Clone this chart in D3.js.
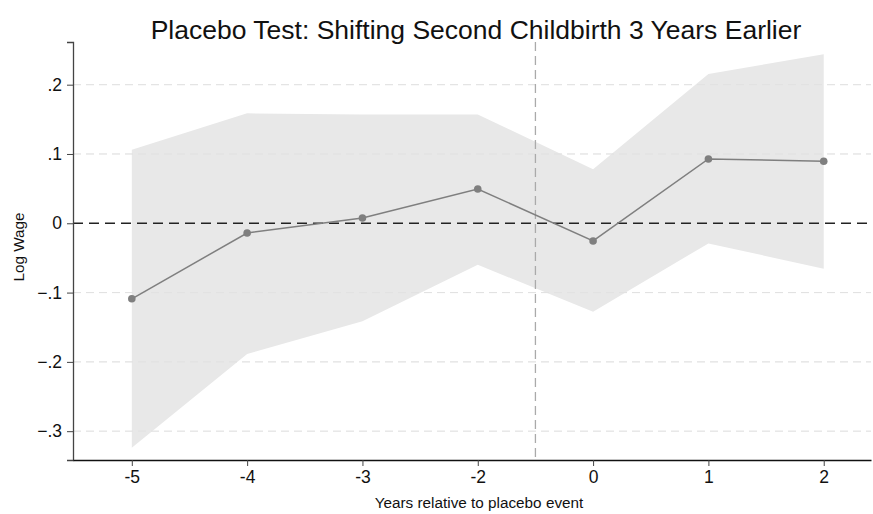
<!DOCTYPE html>
<html>
<head>
<meta charset="utf-8">
<script src="https://cdn.jsdelivr.net/npm/d3@7"></script>
<style>
html, body { margin:0; padding:0; overflow:hidden; background:#fff; }
svg { display:block; }
text { font-family: "Liberation Sans", Arial, Helvetica, sans-serif; fill:#111; }
</style>
</head>
<body>
<svg width="873" height="514"></svg>
<script>
const years = ['-5', '-4', '-3', '-2', '0', '1', '2'];
const estimate = [-0.109, -0.014, 0.0077, 0.0495, -0.0255, 0.0928, 0.0895];
const ciUpper = [0.106, 0.1587, 0.157, 0.157, 0.078, 0.2155, 0.244];
const ciLower = [-0.324, -0.1886, -0.1414, -0.060, -0.1275, -0.029, -0.0655];
const yTicks = [0.2, 0.1, 0, -0.1, -0.2, -0.3];

const svg = d3.select('svg');
const margin = { top: 42, right: 2, bottom: 54, left: 73 };
const width = +svg.attr('width');
const height = +svg.attr('height');
const innerWidth = width - margin.left - margin.right;
const innerHeight = height - margin.top - margin.bottom;

const data = years.map((y, i) => ({ year: y, i: i, est: estimate[i], hi: ciUpper[i], lo: ciLower[i] }));

// category positions, spaced evenly like the original
const xscale = d3.scaleLinear()
    .domain([-0.51, 6.41])
    .range([0, innerWidth]);

const yscale = d3.scaleLinear()
    .domain([-0.3416, 0.2616])
    .range([innerHeight, 0]);

const g = svg.append('g')
    .attr('transform', `translate(${margin.left},${margin.top})`);

// grid lines
g.append('g').selectAll('line').data(yTicks.filter(d => d !== 0))
    .enter().append('line')
        .attr('x1', 0).attr('x2', innerWidth)
        .attr('y1', d => yscale(d)).attr('y2', d => yscale(d))
        .attr('stroke', '#e6e6e6')
        .attr('stroke-width', 1)
        .attr('stroke-dasharray', '8,5');

// confidence band
const area = d3.area()
    .x(d => xscale(d.i))
    .y0(d => yscale(d.lo))
    .y1(d => yscale(d.hi));
g.append('path').datum(data)
    .attr('d', area)
    .attr('fill', '#e8e8e8');

// grid lines drawn faintly over the band too
g.append('g').selectAll('line').data(yTicks.filter(d => d !== 0))
    .enter().append('line')
        .attr('x1', 0).attr('x2', innerWidth)
        .attr('y1', d => yscale(d)).attr('y2', d => yscale(d))
        .attr('stroke', '#dcdcdc')
        .attr('stroke-opacity', 0.5)
        .attr('stroke-width', 1)
        .attr('stroke-dasharray', '8,5');

// vertical line between -2 and 0
g.append('line')
    .attr('x1', xscale(3.5)).attr('x2', xscale(3.5))
    .attr('y1', 0).attr('y2', innerHeight)
    .attr('stroke', '#aaaaaa')
    .attr('stroke-width', 1.3)
    .attr('stroke-dasharray', '9,5');

// zero line
g.append('line')
    .attr('x1', 0).attr('x2', innerWidth)
    .attr('y1', yscale(0)).attr('y2', yscale(0))
    .attr('stroke', '#222')
    .attr('stroke-width', 1.5)
    .attr('stroke-dasharray', '10,6');

// estimates
const line = d3.line()
    .x(d => xscale(d.i))
    .y(d => yscale(d.est));
g.append('path').datum(data)
    .attr('d', line)
    .attr('fill', 'none')
    .attr('stroke', '#7f7f7f')
    .attr('stroke-width', 1.5);

g.selectAll('circle').data(data)
    .enter().append('circle')
        .attr('cx', d => xscale(d.i))
        .attr('cy', d => yscale(d.est))
        .attr('r', 3.8)
        .attr('fill', '#7f7f7f');

// axes
const yAxis = d3.axisLeft(yscale)
    .tickValues(yTicks)
    .tickFormat(d => d === 0 ? '0' : d3.format('.1f')(d).replace('0.', '.'))
    .tickSize(6)
    .tickPadding(5);
const yAxisG = g.append('g').call(yAxis);
yAxisG.select('.domain').attr('stroke', '#444').attr('stroke-width', 1.3);
yAxisG.selectAll('.tick line').attr('stroke', '#444');
yAxisG.selectAll('text').attr('font-size', 17.5).style('font-family', '"Liberation Sans", Arial, sans-serif');

const xAxis = d3.axisBottom(xscale)
    .tickValues(d3.range(years.length))
    .tickFormat(i => years[i])
    .tickSize(6)
    .tickPadding(5)
    .tickSizeOuter(0);
const xAxisG = g.append('g').call(xAxis)
    .attr('transform', `translate(0,${innerHeight})`);
xAxisG.select('.domain').attr('stroke', '#111').attr('stroke-width', 1.3);
xAxisG.selectAll('.tick line').attr('stroke', '#444');
xAxisG.selectAll('text').attr('font-size', 17.5).style('font-family', '"Liberation Sans", Arial, sans-serif');

// labels
svg.append('text')
    .text('Placebo Test: Shifting Second Childbirth 3 Years Earlier')
    .attr('x', 476)
    .attr('y', 39)
    .attr('text-anchor', 'middle')
    .attr('font-size', 26.5);

svg.append('text')
    .text('Years relative to placebo event')
    .attr('x', 479)
    .attr('y', 508)
    .attr('text-anchor', 'middle')
    .attr('font-size', 15.3);

svg.append('text')
    .text('Log Wage')
    .attr('transform', `translate(24,247) rotate(-90)`)
    .attr('text-anchor', 'middle')
    .attr('font-size', 15.3);
</script>
</body>
</html>
